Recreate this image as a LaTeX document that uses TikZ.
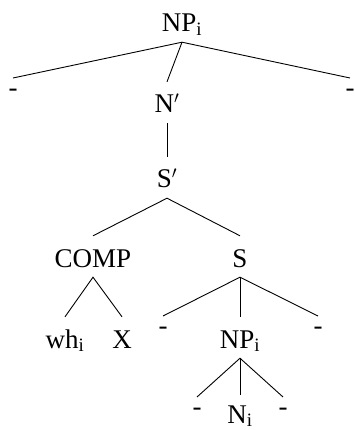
\documentclass[tikz,border=0pt]{standalone}
\usepackage{fontspec}
\setmainfont{Liberation Serif}
\begin{document}
\begin{tikzpicture}[x=1pt,y=-1pt,
  lab/.style={inner sep=0pt, text height=31pt, text depth=10pt, anchor=base, font=\fontsize{27}{32}\selectfont},
  dashnode/.style={inner sep=0pt, text height=18pt, text depth=0pt, anchor=north, font=\fontsize{27}{32}\selectfont},
  edge/.style={line width=0.9pt}]
\useasboundingbox (0,0) rectangle (354,430);
\node[lab] (top) at (182,32) {NP\textsubscript{i}};
\node[dashnode] (dl1) at (13,78) {-};
\node[lab] (nbar) at (167,113) {N$'$};
\node[dashnode] (dr1) at (350,78) {-};
\node[lab] (sbar) at (167,188) {S$'$};
\node[lab] (comp) at (93,267) {COMP};
\node[lab] (s) at (240,267) {S};
\node[lab] (wh) at (65,348) {wh\textsubscript{i}};
\node[lab] (x) at (122,348) {X};
\node[dashnode] (dl2) at (163,316) {-};
\node[lab] (np2) at (240,348) {NP\textsubscript{i}};
\node[dashnode] (dr2) at (318,316) {-};
\node[dashnode] (dl3) at (197,397) {-};
\node[lab,text height=28pt] (ni) at (240,423) {N\textsubscript{i}};
\node[dashnode] (dr3) at (283,397) {-};
\draw[edge] (dl1.north) -- (top.south) -- (dr1.north);
\draw[edge] (top.south) -- (nbar.north);
\draw[edge] (nbar.south) -- (sbar.north);
\draw[edge] (comp.north) -- (sbar.south) -- (s.north);
\draw[edge] (wh.north) -- (comp.south) -- (x.north);
\draw[edge] (dl2.north) -- (s.south) -- (dr2.north);
\draw[edge] (s.south) -- (np2.north);
\draw[edge] (dl3.north) -- (np2.south) -- (dr3.north);
\draw[edge] (np2.south) -- (ni.north);
\end{tikzpicture}
\end{document}
